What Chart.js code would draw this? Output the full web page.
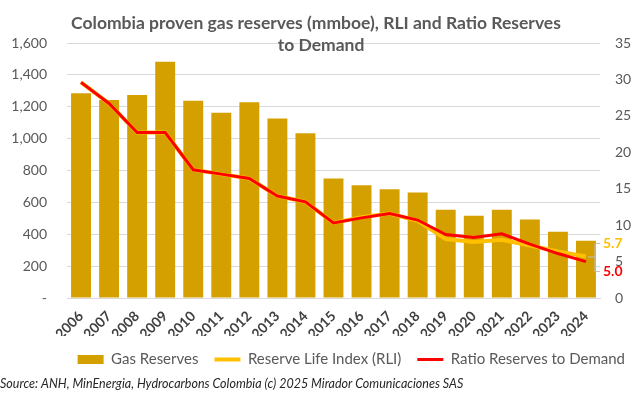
<!DOCTYPE html>
<html>
<head>
<meta charset="utf-8">
<script src="https://cdn.jsdelivr.net/npm/chart.js@4.4.1/dist/chart.umd.min.js"></script>
<style>
  html, body { margin: 0; padding: 0; background: #fff; }
  #wrap { width: 641px; height: 396px; }
</style>
</head>
<body>
<div id="wrap"><canvas id="myChart" width="641" height="396"></canvas></div>
<script>
var years = ['2006','2007','2008','2009','2010','2011','2012','2013','2014','2015','2016','2017','2018','2019','2020','2021','2022','2023','2024'];
var gasReserves = [1285,1243,1273,1482,1237,1162,1228,1127,1034,750,707,682,662,554,516,554,492,416,359];
var rli = [29.6,26.7,22.7,22.7,17.6,17.0,16.4,14.0,13.2,10.3,11.1,11.6,10.6,8.1,7.7,8.0,7.2,6.4,5.7];
var ratioDemand = [29.6,26.7,22.7,22.7,17.6,17.0,16.4,14.0,13.2,10.3,11.0,11.6,10.7,8.7,8.3,8.8,7.4,6.1,5.0];
var leftTicks = [0,200,400,600,800,1000,1200,1400,1600];
var rightTicks = [0,5,10,15,20,25,30,35];

var FONT = 'Lato, Carlito, Calibri, sans-serif';
var gold = '#D4A000';
var yellow = '#FFC000';
var red = '#FF0000';

// title drawn by hand so it can sit over the top gridline like in Excel
var titlePlugin = {
    id: 'excelTitle',
    afterDraw: function(chart) {
        var ctx = chart.ctx;
        ctx.save();
        ctx.font = 'bold 17.5px ' + FONT;
        ctx.fillStyle = '#595959';
        ctx.textAlign = 'center';
        ctx.textBaseline = 'middle';
        ctx.fillText('Colombia proven gas reserves (mmboe), RLI and Ratio Reserves', 316, 23);
        ctx.fillText('to Demand', 321, 45);
        ctx.restore();
    }
};

// labels for the last points with a little grey bracket
var lastLabels = {
    id: 'lastLabels',
    afterDatasetsDraw: function(chart) {
        var ctx = chart.ctx;
        var n = years.length - 1;
        var x = chart.scales.x.getPixelForValue(n);
        var y1 = chart.scales.y1;
        var pr = y1.getPixelForValue(rli[n]);
        var pd = y1.getPixelForValue(ratioDemand[n]);
        ctx.save();
        ctx.strokeStyle = '#bfbfbf';
        ctx.lineWidth = 1;
        ctx.beginPath();
        ctx.moveTo(x + 14, pr - 13);
        ctx.lineTo(x + 9, pr - 13);
        ctx.lineTo(x + 9, pd + 10);
        ctx.lineTo(x + 14, pd + 10);
        ctx.moveTo(x + 9, (pr + pd) / 2 - 2);
        ctx.lineTo(x + 2, (pr + pd) / 2 - 2);
        ctx.stroke();
        ctx.font = 'bold 14px ' + FONT;
        ctx.textAlign = 'left';
        ctx.textBaseline = 'middle';
        ctx.fillStyle = yellow;
        ctx.fillText(rli[n].toFixed(1), x + 17, pr - 13);
        ctx.fillStyle = red;
        ctx.fillText(ratioDemand[n].toFixed(1), x + 17, pd + 10);
        ctx.restore();
    }
};

const ctx = document.getElementById('myChart').getContext('2d');
const myChart = new Chart(ctx, {
    data: {
        labels: years,
        datasets: [{
            type: 'bar',
            label: 'Gas Reserves',
            data: gasReserves,
            backgroundColor: gold,
            borderWidth: 0,
            categoryPercentage: 1,
            barPercentage: 0.71,
            pointStyle: 'rect',
            yAxisID: 'y',
            order: 3
        }, {
            type: 'line',
            label: 'Reserve Life Index (RLI)',
            data: rli,
            borderColor: yellow,
            backgroundColor: yellow,
            borderWidth: 4,
            pointRadius: 0,
            pointStyle: 'line',
            tension: 0,
            yAxisID: 'y1',
            order: 2
        }, {
            type: 'line',
            label: 'Ratio Reserves to Demand',
            data: ratioDemand,
            borderColor: red,
            backgroundColor: red,
            borderWidth: 3,
            pointRadius: 0,
            pointStyle: 'line',
            tension: 0,
            yAxisID: 'y1',
            order: 1
        }]
    },
    options: {
        responsive: false,
        animation: false,
        layout: {
            padding: { top: 43, left: 0, right: 0, bottom: 5 }
        },
        scales: {
            x: {
                grid: { display: false },
                border: { display: true, color: '#d9d9d9' },
                afterFit: function(scale) { scale.height = 38; },
                ticks: {
                    minRotation: 45,
                    maxRotation: 45,
                    padding: 2,
                    color: '#404040',
                    font: { family: FONT, size: 14, weight: 'bold' }
                }
            },
            y: {
                position: 'left',
                min: 0,
                max: 1600,
                afterBuildTicks: function(scale) {
                    scale.ticks = leftTicks.map(function(v) { return { value: v }; });
                },
                afterFit: function(scale) { scale.width = 67; },
                grid: { color: '#d9d9d9', drawTicks: false },
                border: { display: false },
                ticks: {
                    padding: 20,
                    color: '#595959',
                    font: { family: FONT, size: 14 },
                    callback: function(v) {
                        return v === 0 ? '-' : v.toLocaleString('en-US');
                    }
                }
            },
            y1: {
                position: 'right',
                min: 0,
                max: 35,
                afterBuildTicks: function(scale) {
                    scale.ticks = rightTicks.map(function(v) { return { value: v }; });
                },
                afterFit: function(scale) { scale.width = 41; },
                grid: { display: false, drawTicks: false },
                border: { display: false },
                ticks: {
                    padding: 15,
                    color: '#595959',
                    font: { family: FONT, size: 14 }
                }
            }
        },
        plugins: {
            legend: {
                position: 'bottom',
                align: 'end',
                labels: {
                    usePointStyle: true,
                    pointStyleWidth: 26,
                    boxHeight: 9,
                    padding: 16,
                    color: '#595959',
                    font: { family: FONT, size: 15 },
                    sort: function(a, b) { return a.datasetIndex - b.datasetIndex; }
                }
            },
            subtitle: {
                display: true,
                position: 'bottom',
                align: 'start',
                text: 'Source: ANH, MinEnergia, Hydrocarbons Colombia (c) 2025 Mirador Comunicaciones SAS',
                color: '#262626',
                font: { family: FONT, size: 12.5, style: 'italic' },
                padding: { top: -1, bottom: 0 }
            },
            tooltip: { enabled: false }
        }
    },
    plugins: [titlePlugin, lastLabels]
});
</script>
</body>
</html>
